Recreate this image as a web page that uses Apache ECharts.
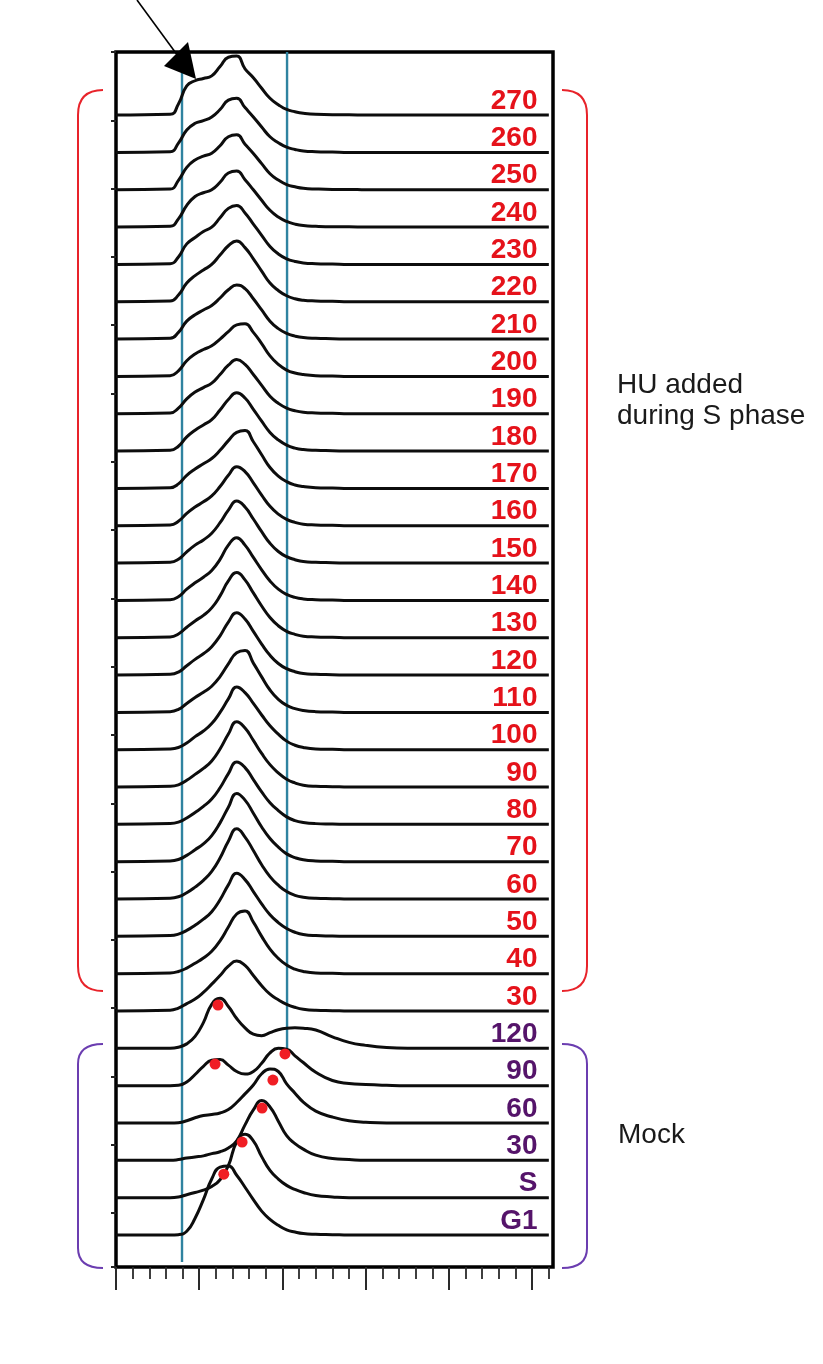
<!DOCTYPE html>
<html>
<head>
<meta charset="utf-8">
<script src="https://cdn.jsdelivr.net/npm/echarts@6/dist/echarts.min.js"></script>
<style>
  html, body { margin: 0; padding: 0; background: #fff; }
  #chart { width: 823px; height: 1364px; }
</style>
</head>
<body>
<div id="chart"></div>
<script>
// DNA-content channel positions shared by every histogram trace
const channel = [0, 130, 150, 170, 190, 210, 230, 250, 270, 290, 310, 330, 350, 370, 390, 410, 430, 450, 480, 520, 560, 600, 650, 700, 1040];

// HU added during S phase (minutes), top trace first
const huTimes = ['270', '260', '250', '240', '230', '220', '210', '200', '190', '180', '170', '160', '150',
                 '140', '130', '120', '110', '100', '90', '80', '70', '60', '50', '40', '30'];
const hu270 = [0, 0.02, 0.3, 0.78, 0.92, 0.98, 1.05, 1.3, 1.55, 1.58, 1.24, 1.0, 0.72, 0.45, 0.28, 0.15, 0.09, 0.05, 0.02, 0.01, 0.01, 0, 0, 0, 0];
const hu260 = [0, 0.02, 0.25, 0.6, 0.78, 0.85, 0.95, 1.15, 1.4, 1.45, 1.2, 0.95, 0.68, 0.42, 0.26, 0.14, 0.08, 0.04, 0.02, 0.01, 0, 0, 0, 0, 0];
const hu250 = [0, 0.02, 0.25, 0.6, 0.8, 0.9, 0.98, 1.18, 1.42, 1.47, 1.22, 0.97, 0.7, 0.43, 0.26, 0.14, 0.08, 0.04, 0.02, 0.01, 0.01, 0, 0, 0, 0];
const hu240 = [0, 0.02, 0.22, 0.58, 0.82, 0.92, 1.0, 1.2, 1.45, 1.5, 1.27, 1.0, 0.72, 0.45, 0.27, 0.15, 0.08, 0.04, 0.02, 0.01, 0.01, 0, 0, 0, 0];
const hu230 = [0, 0.02, 0.2, 0.55, 0.72, 0.88, 1.0, 1.25, 1.5, 1.58, 1.38, 1.08, 0.78, 0.48, 0.28, 0.15, 0.08, 0.04, 0.02, 0.01, 0, 0, 0, 0, 0];
const hu220 = [0, 0.02, 0.18, 0.5, 0.7, 0.85, 1.0, 1.25, 1.5, 1.63, 1.45, 1.15, 0.82, 0.5, 0.3, 0.16, 0.08, 0.04, 0.02, 0.01, 0, 0, 0, 0, 0];
const hu210 = [0, 0.02, 0.18, 0.48, 0.65, 0.78, 0.9, 1.1, 1.32, 1.45, 1.35, 1.08, 0.78, 0.48, 0.28, 0.15, 0.08, 0.04, 0.02, 0.01, 0, 0, 0, 0, 0];
const hu200 = [0, 0.02, 0.15, 0.42, 0.6, 0.72, 0.82, 1.0, 1.2, 1.38, 1.41, 1.18, 0.88, 0.55, 0.32, 0.17, 0.09, 0.05, 0.02, 0.01, 0, 0, 0, 0, 0];
const hu190 = [0, 0.02, 0.15, 0.4, 0.58, 0.7, 0.82, 1.05, 1.3, 1.45, 1.32, 1.05, 0.76, 0.47, 0.28, 0.15, 0.08, 0.04, 0.02, 0.01, 0, 0, 0, 0, 0];
const hu180 = [0, 0.02, 0.13, 0.38, 0.56, 0.7, 0.84, 1.1, 1.38, 1.56, 1.42, 1.12, 0.8, 0.5, 0.3, 0.16, 0.08, 0.04, 0.02, 0.01, 0, 0, 0, 0, 0];
const hu170 = [0, 0.02, 0.12, 0.35, 0.52, 0.66, 0.8, 1.02, 1.28, 1.5, 1.55, 1.25, 0.9, 0.56, 0.33, 0.18, 0.09, 0.05, 0.02, 0.01, 0, 0, 0, 0, 0];
const hu160 = [0, 0.02, 0.12, 0.33, 0.5, 0.64, 0.8, 1.05, 1.35, 1.58, 1.45, 1.15, 0.82, 0.52, 0.31, 0.17, 0.09, 0.04, 0.02, 0.01, 0, 0, 0, 0, 0];
const hu150 = [0, 0.02, 0.1, 0.3, 0.48, 0.62, 0.8, 1.08, 1.42, 1.66, 1.5, 1.18, 0.84, 0.53, 0.31, 0.17, 0.09, 0.04, 0.02, 0.01, 0, 0, 0, 0, 0];
const hu140 = [0, 0.02, 0.1, 0.3, 0.47, 0.62, 0.8, 1.1, 1.48, 1.68, 1.48, 1.15, 0.82, 0.52, 0.3, 0.16, 0.08, 0.04, 0.02, 0.01, 0, 0, 0, 0, 0];
const hu130 = [0, 0.02, 0.1, 0.28, 0.45, 0.6, 0.8, 1.12, 1.52, 1.75, 1.55, 1.2, 0.85, 0.54, 0.32, 0.17, 0.09, 0.04, 0.02, 0.01, 0, 0, 0, 0, 0];
const hu120 = [0, 0.02, 0.08, 0.25, 0.42, 0.57, 0.76, 1.05, 1.42, 1.67, 1.5, 1.17, 0.83, 0.53, 0.31, 0.17, 0.09, 0.04, 0.02, 0.01, 0, 0, 0, 0, 0];
const hu110 = [0, 0.02, 0.08, 0.24, 0.4, 0.54, 0.7, 0.96, 1.3, 1.6, 1.66, 1.32, 0.95, 0.6, 0.35, 0.19, 0.1, 0.05, 0.02, 0.01, 0, 0, 0, 0, 0];
const hu100 = [0, 0.02, 0.06, 0.18, 0.35, 0.5, 0.7, 1.0, 1.36, 1.68, 1.53, 1.24, 0.93, 0.64, 0.42, 0.23, 0.12, 0.06, 0.02, 0.01, 0, 0, 0, 0, 0];
const hu90  = [0, 0.02, 0.06, 0.18, 0.34, 0.5, 0.7, 1.02, 1.42, 1.75, 1.58, 1.25, 0.9, 0.6, 0.38, 0.21, 0.11, 0.05, 0.02, 0.01, 0, 0, 0, 0, 0];
const hu80  = [0, 0.02, 0.06, 0.17, 0.32, 0.48, 0.68, 0.98, 1.36, 1.67, 1.52, 1.2, 0.87, 0.58, 0.37, 0.2, 0.1, 0.05, 0.02, 0.01, 0, 0, 0, 0, 0];
const hu70  = [0, 0.02, 0.06, 0.17, 0.32, 0.48, 0.7, 1.04, 1.46, 1.83, 1.65, 1.3, 0.93, 0.62, 0.39, 0.21, 0.11, 0.05, 0.02, 0.01, 0, 0, 0, 0, 0];
const hu60  = [0, 0.02, 0.06, 0.17, 0.32, 0.5, 0.74, 1.1, 1.55, 1.88, 1.66, 1.3, 0.92, 0.6, 0.37, 0.2, 0.1, 0.05, 0.02, 0.01, 0, 0, 0, 0, 0];
const hu50  = [0, 0.02, 0.06, 0.16, 0.3, 0.46, 0.66, 0.98, 1.38, 1.69, 1.52, 1.2, 0.87, 0.58, 0.37, 0.21, 0.11, 0.05, 0.02, 0.01, 0, 0, 0, 0, 0];
const hu40  = [0, 0.02, 0.06, 0.15, 0.28, 0.42, 0.6, 0.88, 1.25, 1.6, 1.68, 1.38, 1.0, 0.66, 0.41, 0.23, 0.12, 0.06, 0.02, 0.01, 0, 0, 0, 0, 0];
const hu30  = [0, 0.02, 0.08, 0.2, 0.32, 0.5, 0.72, 0.95, 1.2, 1.34, 1.22, 0.95, 0.68, 0.45, 0.3, 0.18, 0.1, 0.05, 0.02, 0.01, 0, 0, 0, 0, 0];
const huTraces = [hu270, hu260, hu250, hu240, hu230, hu220, hu210, hu200, hu190, hu180, hu170, hu160, hu150,
                  hu140, hu130, hu120, hu110, hu100, hu90, hu80, hu70, hu60, hu50, hu40, hu30];

// Mock release, top trace first
const mockTimes = ['120', '90', '60', '30', 'S', 'G1'];
const mock120 = [0, 0, 0.03, 0.12, 0.32, 0.69, 1.18, 1.34, 1.12, 0.8, 0.55, 0.38, 0.34, 0.42, 0.5, 0.54, 0.55, 0.54, 0.49, 0.31, 0.16, 0.08, 0.02, 0, 0];
const mock90  = [0, 0, 0.01, 0.1, 0.3, 0.52, 0.68, 0.7, 0.55, 0.38, 0.31, 0.38, 0.6, 0.88, 1.0, 0.98, 0.8, 0.62, 0.36, 0.14, 0.06, 0.03, 0.01, 0, 0];
const mock60  = [0, 0, 0.01, 0.06, 0.14, 0.2, 0.23, 0.27, 0.36, 0.55, 0.78, 1.02, 1.32, 1.45, 1.38, 1.05, 0.8, 0.56, 0.32, 0.16, 0.06, 0.02, 0, 0, 0];
const mock30  = [0, 0, 0.02, 0.06, 0.09, 0.12, 0.18, 0.23, 0.33, 0.52, 0.95, 1.35, 1.6, 1.43, 1.05, 0.66, 0.45, 0.3, 0.14, 0.05, 0.02, 0, 0, 0, 0];
const mockS   = [0, 0, 0.02, 0.08, 0.14, 0.2, 0.3, 0.48, 0.86, 1.5, 1.7, 1.52, 1.1, 0.73, 0.5, 0.33, 0.22, 0.14, 0.06, 0.02, 0, 0, 0, 0, 0];
const mockG1  = [0, 0, 0.01, 0.1, 0.45, 0.95, 1.5, 1.82, 1.85, 1.6, 1.28, 0.95, 0.64, 0.42, 0.26, 0.14, 0.08, 0.04, 0.02, 0.01, 0, 0, 0, 0, 0];
const mockTraces = [mock120, mock90, mock60, mock30, mockS, mockG1];

// Peak markers on the mock traces
const dotTrace   = ['G1', 'S', '30', '60', '90', '90', '120'];
const dotChannel = [259, 303, 351, 377, 238, 406, 245];
const dotHeight  = [1.63, 1.49, 1.40, 1.15, 0.58, 0.85, 1.16];

// Gating guides: [channel, lowest trace level, highest level]
const gateLeft  = [158.6, -0.72, 31.69];
const gateRight = [411, 5.0, 31.69];

// Vertical layout: one trace per level, G1 at level 0
const mockLevel = {};
mockTimes.forEach((t, i) => { mockLevel[t] = mockTimes.length - 1 - i; });
const huBase = mockTimes.length + huTimes.length - 1;
const labelChannel = 1014;
const labelLift = 0.38;

const lineStyle = { color: '#0d0d0d', width: 3 };
const series = [];

function traceSeries(name, level, values) {
  return {
    name: name,
    type: 'line',
    xAxisIndex: 0, yAxisIndex: 0,
    smooth: 0.5,
    showSymbol: false,
    silent: true,
    lineStyle: lineStyle,
    z: 3,
    data: channel.map((x, k) => [x, level + values[k]])
  };
}

huTraces.forEach((vals, i) => series.push(traceSeries('HU ' + huTimes[i], huBase - i, vals)));
mockTraces.forEach((vals, i) => series.push(traceSeries('Mock ' + mockTimes[i], mockLevel[mockTimes[i]], vals)));

// gate guides
[gateLeft, gateRight].forEach(g => series.push({
  type: 'line', xAxisIndex: 0, yAxisIndex: 0, showSymbol: false, silent: true, z: 2,
  lineStyle: { color: '#2F83A0', width: 2.4 },
  data: [[g[0], g[1]], [g[0], g[2]]]
}));

// peak dots
series.push({
  type: 'scatter', xAxisIndex: 0, yAxisIndex: 0, symbolSize: 11, silent: true, z: 6,
  itemStyle: { color: '#F01E24', opacity: 1 },
  data: dotTrace.map((t, i) => [dotChannel[i], mockLevel[t] + dotHeight[i]])
});

// trace labels
function labelSeries(names, levelOf, color) {
  return {
    type: 'scatter', xAxisIndex: 0, yAxisIndex: 0, symbolSize: 1, silent: true, z: 7,
    itemStyle: { color: 'rgba(0,0,0,0)', opacity: 1 },
    label: {
      show: true, position: 'left', distance: 0,
      formatter: p => p.name,
      color: color, opacity: 1, fontSize: 28, fontWeight: 'bold',
      fontFamily: '"Liberation Sans", Arial, sans-serif'
    },
    data: names.map((n, i) => ({ name: n, value: [labelChannel, levelOf(n, i) + labelLift] }))
  };
}
series.push(labelSeries(huTimes, (n, i) => huBase - i, '#E5121A'));
series.push(labelSeries(mockTimes, n => mockLevel[n], '#55146A'));

const plotLeft = 116, plotTop = 52, plotWidth = 437, plotHeight = 1215;
const xMax = 1050;
const pxPerUnit = plotWidth / xMax;

const option = {
  animation: false,
  backgroundColor: '#fff',
  grid: [
    { left: plotLeft, top: plotTop, width: plotWidth, height: plotHeight, show: true,
      borderColor: '#000', borderWidth: 3.5, backgroundColor: 'transparent' },
    { left: plotLeft, top: plotTop, width: 1040 * pxPerUnit, height: plotHeight, show: false },
    { left: plotLeft, top: plotTop, width: 1000 * pxPerUnit, height: plotHeight, show: false }
  ],
  xAxis: [
    { gridIndex: 0, type: 'value', min: 0, max: xMax, show: false },
    { gridIndex: 1, type: 'value', min: 0, max: 1040, interval: 40, position: 'bottom',
      axisLine: { show: false }, axisLabel: { show: false }, splitLine: { show: false },
      axisTick: { show: true, length: 12, lineStyle: { color: '#2a2a2a', width: 1.8 } } },
    { gridIndex: 2, type: 'value', min: 0, max: 1000, interval: 200, position: 'bottom',
      axisLine: { show: false }, axisLabel: { show: false }, splitLine: { show: false },
      axisTick: { show: true, length: 23, lineStyle: { color: '#2a2a2a', width: 2 } } }
  ],
  yAxis: [
    { gridIndex: 0, type: 'value', min: -0.857, max: 31.69, show: false },
    { gridIndex: 0, type: 'value', min: 0, max: 17.79, interval: 1, inverse: true, position: 'left',
      axisLine: { show: false }, axisLabel: { show: false }, splitLine: { show: false },
      axisTick: { show: true, length: 5, lineStyle: { color: '#222', width: 2 } } },
    { gridIndex: 1, type: 'value', min: 0, max: 1, show: false },
    { gridIndex: 2, type: 'value', min: 0, max: 1, show: false }
  ],
  series: series,
  graphic: [
    // arrow pointing at the shoulder of the top trace
    { type: 'line', shape: { x1: 137, y1: 0, x2: 178, y2: 56 }, style: { stroke: '#000', lineWidth: 1.6 }, z: 20 },
    { type: 'polygon', shape: { points: [[164, 66], [188, 42], [196, 79]] }, style: { fill: '#000' }, z: 20 },

    // red bracket, HU group
    { type: 'bezierCurve', shape: { x1: 103, y1: 90, cpx1: 78, cpy1: 90, x2: 78, y2: 115 }, style: { stroke: '#E8232A', lineWidth: 2, fill: null } },
    { type: 'line', shape: { x1: 78, y1: 115, x2: 78, y2: 966 }, style: { stroke: '#E8232A', lineWidth: 2 } },
    { type: 'bezierCurve', shape: { x1: 78, y1: 966, cpx1: 78, cpy1: 991, x2: 103, y2: 991 }, style: { stroke: '#E8232A', lineWidth: 2, fill: null } },
    { type: 'bezierCurve', shape: { x1: 562, y1: 90, cpx1: 587, cpy1: 90, x2: 587, y2: 115 }, style: { stroke: '#E8232A', lineWidth: 2, fill: null } },
    { type: 'line', shape: { x1: 587, y1: 115, x2: 587, y2: 966 }, style: { stroke: '#E8232A', lineWidth: 2 } },
    { type: 'bezierCurve', shape: { x1: 587, y1: 966, cpx1: 587, cpy1: 991, x2: 562, y2: 991 }, style: { stroke: '#E8232A', lineWidth: 2, fill: null } },

    // purple bracket, mock group
    { type: 'bezierCurve', shape: { x1: 103, y1: 1044, cpx1: 78, cpy1: 1044, x2: 78, y2: 1064 }, style: { stroke: '#6B3DB0', lineWidth: 2, fill: null } },
    { type: 'line', shape: { x1: 78, y1: 1064, x2: 78, y2: 1248 }, style: { stroke: '#6B3DB0', lineWidth: 2 } },
    { type: 'bezierCurve', shape: { x1: 78, y1: 1248, cpx1: 78, cpy1: 1268, x2: 103, y2: 1268 }, style: { stroke: '#6B3DB0', lineWidth: 2, fill: null } },
    { type: 'bezierCurve', shape: { x1: 562, y1: 1044, cpx1: 587, cpy1: 1044, x2: 587, y2: 1064 }, style: { stroke: '#6B3DB0', lineWidth: 2, fill: null } },
    { type: 'line', shape: { x1: 587, y1: 1064, x2: 587, y2: 1248 }, style: { stroke: '#6B3DB0', lineWidth: 2 } },
    { type: 'bezierCurve', shape: { x1: 587, y1: 1248, cpx1: 587, cpy1: 1268, x2: 562, y2: 1268 }, style: { stroke: '#6B3DB0', lineWidth: 2, fill: null } },

    // group captions
    { type: 'text', left: 617, top: 370,
      style: { text: 'HU added\nduring S phase', fontSize: 28, lineHeight: 31,
               fontFamily: '"Liberation Sans", Arial, sans-serif', fill: '#1a1a1a' } },
    { type: 'text', left: 618, top: 1120,
      style: { text: 'Mock', fontSize: 28, lineHeight: 31,
               fontFamily: '"Liberation Sans", Arial, sans-serif', fill: '#1a1a1a' } }
  ]
};

const chart = echarts.init(document.getElementById('chart'), null, { renderer: 'canvas' });
chart.setOption(option);
</script>
</body>
</html>
